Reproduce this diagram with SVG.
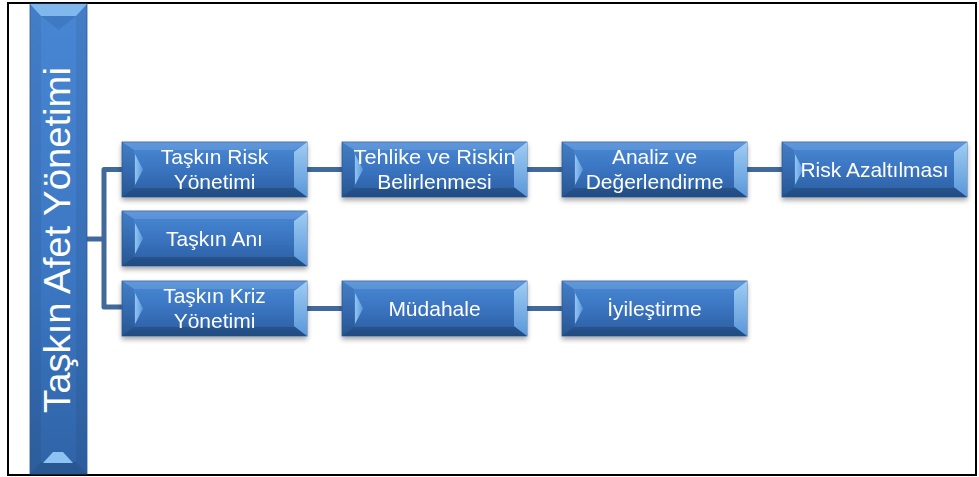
<svg xmlns="http://www.w3.org/2000/svg" width="979" height="477" viewBox="0 0 979 477">
<defs>
<linearGradient id="gBox" x1="0" y1="0" x2="0" y2="1">
<stop offset="0" stop-color="#4a8ad6"/>
<stop offset="0.5" stop-color="#3a74c0"/>
<stop offset="1" stop-color="#2a5d9f"/>
</linearGradient>
<linearGradient id="gBar" x1="0" y1="0" x2="0" y2="1">
<stop offset="0" stop-color="#4886d3"/>
<stop offset="0.6" stop-color="#3b76c2"/>
<stop offset="1" stop-color="#2f63a6"/>
</linearGradient>
<linearGradient id="gRight" x1="0" y1="0" x2="0" y2="1">
<stop offset="0" stop-color="#a9d4f6"/>
<stop offset="1" stop-color="#5f9ee0"/>
</linearGradient>
<linearGradient id="gLeft" x1="0" y1="0" x2="1" y2="0">
<stop offset="0" stop-color="#9ccdf5"/>
<stop offset="1" stop-color="#5d9be0"/>
</linearGradient>
<filter id="sh" x="-10%" y="-20%" width="120%" height="150%">
<feDropShadow dx="0" dy="3" stdDeviation="2.5" flood-color="#000" flood-opacity="0.35"/>
</filter>
<g id="bevel">
<rect x="0" y="0" width="185" height="55" fill="url(#gBox)" stroke="#2d5c98" stroke-width="0.8"/>
<polygon points="0,0 185,0 173,8 12,8" fill="#ffffff" opacity="0.12"/>
<polygon points="12,46 173,46 185,55 0,55" fill="#000000" opacity="0.18"/>
<polygon points="0,0 12,8 12,46 0,55" fill="#000000" opacity="0.08"/>
<polygon points="13,12 21,27.5 13,43" fill="url(#gLeft)" opacity="0.9"/>
<polygon points="185,0 185,55 172,45 172,10" fill="url(#gRight)" opacity="0.9"/>
</g>
</defs>
<style>
.t{font-family:"Liberation Sans",Arial,sans-serif;font-size:21px;fill:#ffffff;text-anchor:middle}
.c{fill:none;stroke:#41699c;stroke-width:5;stroke-linejoin:round}
</style>
<rect x="8" y="3" width="968" height="472" fill="#ffffff" stroke="#000000" stroke-width="2"/>
<g id="connectors">
<line class="c" x1="87" y1="239" x2="104" y2="239"/>
<path class="c" d="M122,169.5 H104 V307 H122"/>
<line class="c" x1="306" y1="169.5" x2="342" y2="169.5"/>
<line class="c" x1="527" y1="169.5" x2="562" y2="169.5"/>
<line class="c" x1="747" y1="169.5" x2="782" y2="169.5"/>
<line class="c" x1="306" y1="308.5" x2="342" y2="308.5"/>
<line class="c" x1="527" y1="308.5" x2="562" y2="308.5"/>
</g>
<g id="root">
<rect x="30" y="4" width="57" height="470" fill="url(#gBar)" stroke="#2d5c98" stroke-width="0.8"/>
<polygon points="30,4 87,4 76,16 41,16" fill="#86bcf0" opacity="0.9"/>
<polygon points="41,16 76,16 58.5,30" fill="#2f66ad" opacity="0.35"/>
<polygon points="30,4 41,16 41,462 30,474" fill="#000" opacity="0.06"/>
<polygon points="87,4 76,16 76,462 87,474" fill="#000" opacity="0.06"/>
<polygon points="41,462 76,462 87,474 30,474" fill="#000" opacity="0.12"/>
<polygon points="43,463 73,463 63,452 53,452" fill="#8cc3f3"/>
<text class="t" transform="translate(70,240) rotate(-90)" style="font-size:36px" textLength="346" lengthAdjust="spacingAndGlyphs">Taşkın Afet Yönetimi</text>
</g>
<g id="n1" filter="url(#sh)">
<use href="#bevel" x="122" y="142"/>
<text class="t" x="214.5" y="163.5">Taşkın Risk</text>
<text class="t" x="214.5" y="188.5">Yönetimi</text>
</g>
<g id="n2" filter="url(#sh)">
<use href="#bevel" x="342" y="142"/>
<text class="t" x="434.5" y="163.5" textLength="162" lengthAdjust="spacingAndGlyphs">Tehlike ve Riskin</text>
<text class="t" x="434.5" y="188.5">Belirlenmesi</text>
</g>
<g id="n3" filter="url(#sh)">
<use href="#bevel" x="562" y="142"/>
<text class="t" x="654.5" y="163.5">Analiz ve</text>
<text class="t" x="654.5" y="188.5">Değerlendirme</text>
</g>
<g id="n4" filter="url(#sh)">
<use href="#bevel" x="782" y="142"/>
<text class="t" x="874.5" y="177">Risk Azaltılması</text>
</g>
<g id="n5" filter="url(#sh)">
<use href="#bevel" x="122" y="211"/>
<text class="t" x="214.5" y="246">Taşkın Anı</text>
</g>
<g id="n6" filter="url(#sh)">
<use href="#bevel" x="122" y="281"/>
<text class="t" x="214.5" y="302.5">Taşkın Kriz</text>
<text class="t" x="214.5" y="327.5">Yönetimi</text>
</g>
<g id="n7" filter="url(#sh)">
<use href="#bevel" x="342" y="281"/>
<text class="t" x="434.5" y="316">Müdahale</text>
</g>
<g id="n8" filter="url(#sh)">
<use href="#bevel" x="562" y="281"/>
<text class="t" x="654.5" y="316">İyileştirme</text>
</g>
</svg>
